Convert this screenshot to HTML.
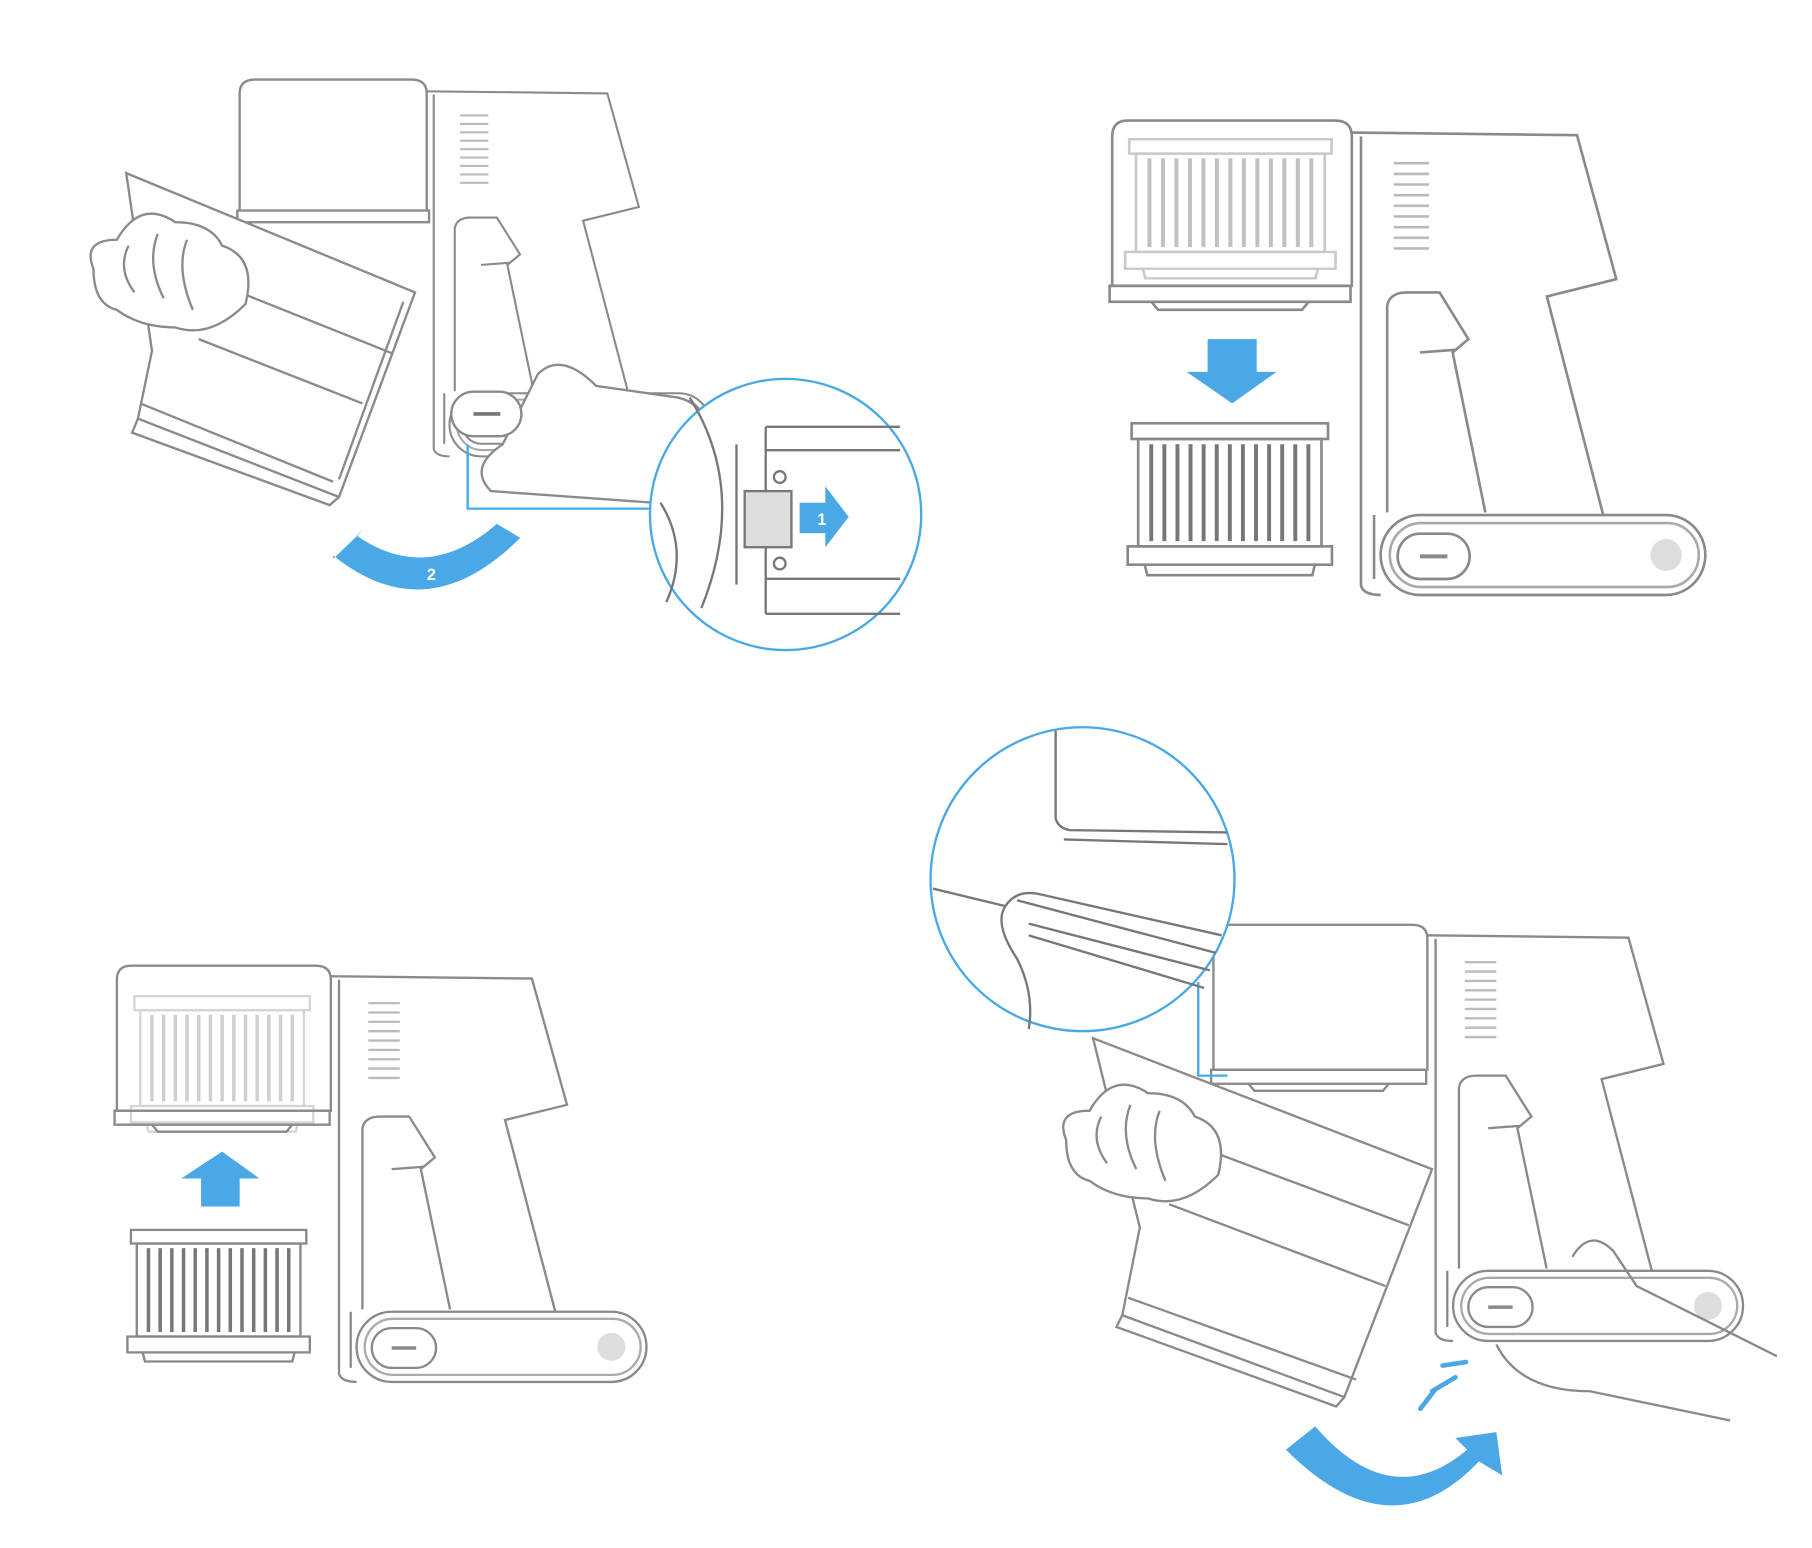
<!DOCTYPE html>
<html><head><meta charset="utf-8"><style>
html,body{margin:0;padding:0;background:#fff;width:1812px;height:1548px;overflow:hidden}
svg{display:block}
</style></head><body>
<svg width="1812" height="1548" viewBox="0 0 1550 1324" xmlns="http://www.w3.org/2000/svg" font-family="Liberation Sans, sans-serif">
<defs>
<g id="body" fill="none" stroke="#8a8a8a" stroke-width="2">
  <path d="M283,835 L455,837 L485,945 L432,958 L475,1122" />
  <path d="M290,838 L290,1175 Q292,1182 305,1182" />
  <path d="M300,1170 L300,1122" />
  <path d="M310,1120 L310,965 Q312,955 325,955 L350,955 L372,990 L360,1000 L385,1120" />
  <path d="M335,1000 L362,998" />
  <rect x="305" y="1122" width="248" height="60" rx="30"/>
  <rect x="312" y="1128" width="236" height="48" rx="24" stroke="#aaa"/>
  <rect x="318" y="1136" width="55" height="34" rx="17"/>
  <line x1="335" y1="1153" x2="356" y2="1153" stroke-width="3"/>
  <circle cx="523" cy="1152" r="12" fill="#ddd" stroke="none"/>
  <g stroke="#bbb" stroke-width="2">
   <line x1="315" y1="858" x2="342" y2="858"/><line x1="315" y1="866" x2="342" y2="866"/><line x1="315" y1="874" x2="342" y2="874"/><line x1="315" y1="882" x2="342" y2="882"/><line x1="315" y1="890" x2="342" y2="890"/><line x1="315" y1="898" x2="342" y2="898"/><line x1="315" y1="906" x2="342" y2="906"/><line x1="315" y1="914" x2="342" y2="914"/><line x1="315" y1="922" x2="342" y2="922"/>
  </g>
</g>
<g id="cup" fill="none" stroke="#8a8a8a" stroke-width="2">
  <path d="M100,950 L100,838 Q100,826 112,826 L270,826 Q283,826 283,838 L283,950 Z"/>
  <rect x="98" y="950" width="184" height="12"/>
  <path d="M130,962 L135,968 L245,968 L250,962"/>
</g>
<g id="filter" fill="none">
  <rect x="0" y="0" width="150" height="12" stroke="#888" stroke-width="2"/>
  <rect x="5" y="12" width="140" height="82" stroke="#888" stroke-width="2"/>
  <g stroke="#777" stroke-width="3">
   <line x1="15" y1="16" x2="15" y2="90"/><line x1="25" y1="16" x2="25" y2="90"/><line x1="35" y1="16" x2="35" y2="90"/><line x1="45" y1="16" x2="45" y2="90"/><line x1="55" y1="16" x2="55" y2="90"/><line x1="65" y1="16" x2="65" y2="90"/><line x1="75" y1="16" x2="75" y2="90"/><line x1="85" y1="16" x2="85" y2="90"/><line x1="95" y1="16" x2="95" y2="90"/><line x1="105" y1="16" x2="105" y2="90"/><line x1="115" y1="16" x2="115" y2="90"/><line x1="125" y1="16" x2="125" y2="90"/><line x1="135" y1="16" x2="135" y2="90"/>
  </g>
  <rect x="-3" y="94" width="156" height="14" stroke="#888" stroke-width="2"/>
  <path d="M10,108 L12,116 L138,116 L140,108" stroke="#888" stroke-width="2"/>
</g>
<g id="hand" fill="#fff" stroke="#8a8a8a" stroke-width="2">
  <path d="M0,60 Q-10,35 20,35 Q40,0 70,20 Q100,20 110,40 Q140,50 130,90 Q100,120 70,110 Q40,110 20,95 Q0,90 0,60 Z"/>
  <path d="M30,40 Q20,60 35,80 M55,30 Q45,55 60,85 M80,35 Q70,60 85,95"/>
</g>
</defs>

<!-- Panel 1 -->
<g transform="translate(110,-673.5) scale(0.9)">
  <use href="#body"/>
</g>
<g fill="none" stroke="#8a8a8a" stroke-width="2">
  <path d="M205,180 L205,80 Q205,68 218,68 L352,68 Q365,68 365,80 L365,180"/>
  <rect x="203" y="180" width="164" height="10"/>
</g>
<g fill="#fff" stroke="#8a8a8a" stroke-width="2">
  <path d="M108,148 L355,250 L290,425 L118,358 L130,300 Z"/>
  <path d="M180,240 L335,302 M170,290 L310,345 M120,345 L285,412" fill="none"/>
  <path d="M118,358 L113,370 L282,432 L290,425" fill="none"/>
  <path d="M345,258 L290,410" fill="none"/>
</g>
<use href="#hand" transform="translate(80,170)"/>
<path d="M460,320 Q480,300 510,330 L580,340 Q600,345 600,360 L560,430 L420,420 Q400,400 430,380 Z" fill="#fff" stroke="#8a8a8a" stroke-width="2"/>
<rect x="386" y="335" width="60" height="38" rx="19" fill="#fff" stroke="#8a8a8a" stroke-width="2"/>
<line x1="405" y1="354" x2="428" y2="354" stroke="#777" stroke-width="3"/>
<path d="M400,380 L400,435 L555,435" fill="none" stroke="#4aa8e6" stroke-width="2"/>
<circle cx="672" cy="440" r="116" fill="#fff" stroke="#4aa8e6" stroke-width="2"/>
<g fill="none" stroke="#777" stroke-width="2">
  <path d="M590,340 Q640,420 600,520"/>
  <path d="M565,430 Q590,470 570,515"/>
  <path d="M655,365 L770,365 M655,385 L770,385 M655,365 L655,525 M630,380 L630,500 M655,495 L770,495 M655,525 L770,525"/>
  <rect x="637" y="420" width="40" height="48" fill="#ddd"/>
  <circle cx="667" cy="408" r="5"/><circle cx="667" cy="482" r="5"/>
</g>
<path d="M684,430 L706,430 L706,416 L726,442 L706,468 L706,456 L684,456 Z" fill="#4aa8e6"/>
<text x="703" y="449" font-size="14" fill="#fff" font-weight="bold" text-anchor="middle">1</text>
<path d="M285,475 Q365,540 445,460 L425,448 Q365,500 305,458 L312,452 L285,478 Z" fill="#4aa8e6"/>
<text x="369" y="496" font-size="14" fill="#fff" font-weight="bold" text-anchor="middle">2</text>

<!-- Panel 2 -->
<g transform="translate(839.4,-838.6) scale(1.12,1.14)">
  <use href="#body"/><use href="#cup"/>
  <g opacity="0.45"><use href="#filter" transform="translate(113,840) scale(1.03,0.9)"/></g>
</g>
<path d="M1033,290 L1075,290 L1075,318 L1092,318 L1054,345 L1015,318 L1033,318 Z" fill="#4aa8e6"/>
<use href="#filter" transform="translate(968,362) scale(1.12,1.12)"/>

<!-- Panel 3 -->
<use href="#body"/><use href="#cup"/>
<g opacity="0.35"><use href="#filter" transform="translate(115,852)"/></g>
<path d="M172,1032 L172,1008 L155,1008 L190,985 L222,1008 L205,1008 L205,1032 Z" fill="#4aa8e6"/>
<use href="#filter" transform="translate(112,1052) scale(1,0.97)"/>

<!-- Panel 4 -->
<g transform="translate(938,-35)">
  <use href="#body"/><use href="#cup"/>
</g>
<g fill="#fff" stroke="#8a8a8a" stroke-width="2">
  <path d="M935,888 L1225,1000 L1150,1195 L960,1125 L975,1050 Z"/>
  <path d="M1010,975 L1205,1048 M1000,1030 L1185,1100 M965,1110 L1160,1180" fill="none"/>
  <path d="M960,1125 L955,1135 L1143,1203 L1150,1195" fill="none"/>
</g>
<use href="#hand" transform="translate(912,915)"/>
<path d="M1345,1075 Q1360,1050 1380,1070 L1400,1100 L1520,1160 M1280,1150 Q1300,1190 1360,1190 L1480,1215" fill="none" stroke="#8a8a8a" stroke-width="2"/>
<path d="M1025,840 L1025,920 L1050,920" fill="none" stroke="#4aa8e6" stroke-width="2"/>
<circle cx="926" cy="752" r="130" fill="#fff" stroke="#4aa8e6" stroke-width="2"/>
<g fill="none" stroke="#777" stroke-width="2">
  <path d="M903,625 L903,700 Q905,708 915,710 L1050,712"/>
  <path d="M910,718 L1050,722"/>
  <path d="M798,760 L860,775 Q850,790 870,820 Q885,850 880,880"/>
  <path d="M860,775 Q870,760 890,765 L1045,800 M870,770 L1040,815 M880,790 L1035,830 M880,800 L1030,845"/>
</g>
<g stroke="#4aa8e6" stroke-width="4" stroke-linecap="round">
  <line x1="1215" y1="1205" x2="1228" y2="1188"/><line x1="1225" y1="1190" x2="1245" y2="1178"/><line x1="1234" y1="1168" x2="1254" y2="1165"/>
</g>
<path d="M1100,1240 Q1190,1330 1265,1250 L1285,1262 L1280,1225 L1245,1230 L1255,1240 Q1190,1295 1125,1220 Z" fill="#4aa8e6"/>
</svg>
</body></html>
